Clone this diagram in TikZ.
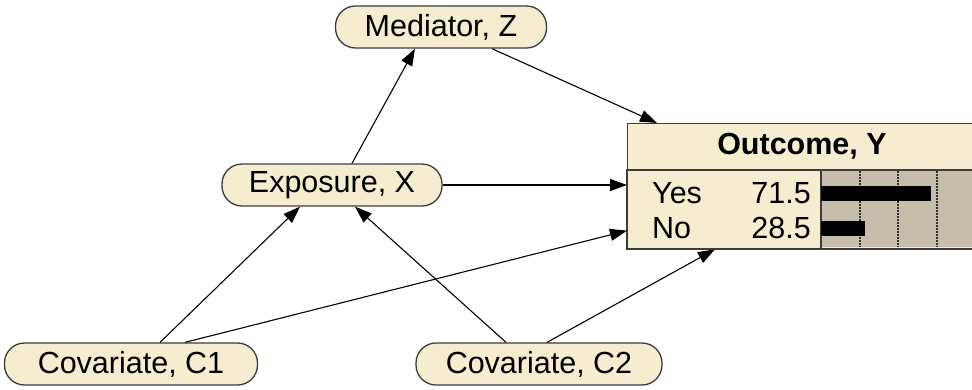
\documentclass[tikz,border=0pt]{standalone}
\usepackage{fontspec}
\setmainfont{Liberation Sans}
\usetikzlibrary{arrows.meta,calc}
\definecolor{nodefill}{RGB}{246,236,208}
\definecolor{bararea}{RGB}{198,190,170}
\definecolor{edgegray}{RGB}{60,60,60}
\tikzset{
  var/.style={draw=edgegray, line width=1.3pt, fill=nodefill, rounded corners=20pt,
    minimum height=42pt, inner sep=0pt, font=\fontsize{30.5}{34}\selectfont},
  link/.style={line width=1.1pt, -{Triangle[length=17pt,width=12pt]}},
  boxpart/.style={draw=edgegray, line width=1.3pt, fill=nodefill, inner sep=0pt, anchor=north west},
  lbl/.style={font=\fontsize{30.5}{34}\selectfont, inner sep=0pt},
  bar/.style={fill=black},
  grid/.style={dash pattern=on 1.5pt off 1.5pt, line width=1.2pt, black!80}
}
\begin{document}
\begin{tikzpicture}[x=1pt,y=-1pt]
\useasboundingbox (0,0) rectangle (972,389);
\begin{scope}
\clip (0,0) rectangle (972,389);
\node[var, minimum width=211pt] (med) at (441,27) {Mediator, Z};
\node[var, minimum width=220pt] (exp) at (332,185) {Exposure, X};
\node[var, minimum width=253pt] (c1) at (131,364) {Covariate, C1};
\node[var, minimum width=246pt] (c2) at (539,364) {Covariate, C2};
\node[boxpart, minimum width=348pt, minimum height=47pt] (out) at (627,123) {};
\node[lbl, font=\fontsize{30.5}{34}\selectfont\bfseries] (title) at (802,146) {Outcome, Y};
\node[boxpart, minimum width=348pt, minimum height=78pt] (outS) at (627,170) {};
\fill[bararea] (821,171) rectangle (975,247);
\draw[edgegray, line width=1.3pt] (821,170) -- (821,248);
\draw[grid] (860,171) -- (860,247);
\draw[grid] (898,171) -- (898,247);
\draw[grid] (937,171) -- (937,247);
\fill[bar] (821,186) rectangle (931,201);
\fill[bar] (821,221) rectangle (865,236);
\draw[edgegray, line width=1.3pt] (outS.north west) rectangle (outS.south east);
\node[lbl, anchor=base west] (yes) at (652,203) {Yes};
\node[lbl, anchor=base east] (yv) at (811,203) {71.5};
\node[lbl, anchor=base west] (no) at (652,238) {No};
\node[lbl, anchor=base east] (nv) at (811,238) {28.5};
\end{scope}
\draw[link] ([xshift=51pt]med.south) -- ([xshift=30pt]out.north west);
\draw[link] ([xshift=20pt]exp.north) -- ([xshift=-26pt]med.south);
\draw[link] (exp.east) -- (exp.east -| outS.west);
\draw[link] ([xshift=29pt]c1.north) -- ([xshift=-32pt]exp.south);
\draw[link] ([xshift=54pt]c1.north) -- ([yshift=-21pt]outS.west);
\draw[link] ([xshift=-33pt]c2.north) -- ([xshift=23pt]exp.south);
\draw[link] ([xshift=8pt]c2.north) -- ([xshift=88pt]outS.south west);
\end{tikzpicture}
\end{document}
